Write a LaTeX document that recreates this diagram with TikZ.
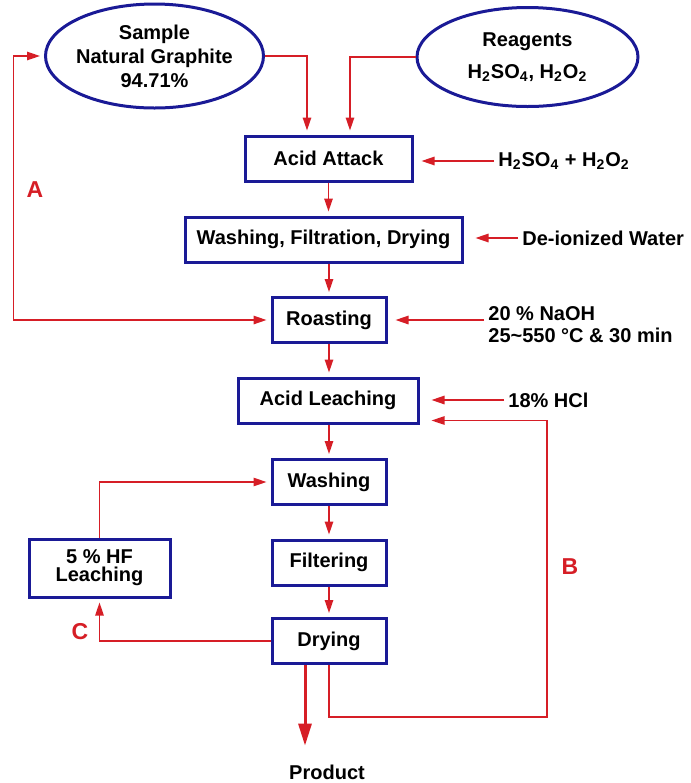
\documentclass[tikz,border=0pt]{standalone}
\usepackage{fontspec}
\setmainfont{Liberation Sans}
\usepackage{tikz}
\usetikzlibrary{shapes.geometric,arrows.meta,positioning,calc}
\definecolor{boxblue}{RGB}{26, 26, 150}
\definecolor{flowred}{RGB}{214, 30, 38}
\newcommand{\ssub}[1]{\textsubscript{#1}}

\begin{document}
\begin{tikzpicture}[x=0.5pt, y=-0.5pt,
    every node/.style={font=\bfseries\fontsize{10}{11}\selectfont, text=black},
    procbox/.style={draw=boxblue, line width=1.5pt, fill=white, minimum height=22.5pt, inner sep=2pt},
    feed/.style={ellipse, draw=boxblue, line width=1.5pt, inner xsep=-5pt, inner ysep=0pt, align=center},
    flow/.style={color=flowred, line width=0.8pt, -{Triangle[length=6.5pt, width=4.2pt]}, shorten >=2pt},
    flowboth/.style={color=flowred, line width=0.8pt, {Triangle[length=6.5pt, width=4.2pt]}-{Triangle[length=6.5pt, width=4.2pt]}, shorten >=2pt, shorten <=2pt},
    looplabel/.style={text=flowred, font=\bfseries\fontsize{11.5}{12}\selectfont},
    sidetext/.style={inner sep=2pt, anchor=west, align=left}]
    \path[use as bounding box, fill=white] (0,0) rectangle (691,783);

    % Feed ellipses
    \node[feed, minimum width=109pt, minimum height=52pt, font=\bfseries\fontsize{10}{12}\selectfont] (sample) at (154.5,56) {Sample\\Natural Graphite\\94.71\%};
    \node[feed, minimum width=110.5pt, minimum height=49.5pt, font=\bfseries\fontsize{10}{16}\selectfont] (reagents) at (527.5,57) {Reagents\\H\ssub{2}SO\ssub{4}, H\ssub{2}O\ssub{2}};

    % Process column
    \node[procbox, minimum width=83.5pt] (attack) at (328.5,158.5) {Acid Attack};
    \node[procbox, minimum width=138.5pt] (wfd) at (323.5,239.5) {Washing, Filtration, Drying};
    \node[procbox, minimum width=57pt] (roast) at (329,320) {Roasting};
    \node[procbox, minimum width=90pt] (leach) at (328,400.5) {Acid Leaching};
    \node[procbox, minimum width=57pt] (wash) at (329,482) {Washing};
    \node[procbox, minimum width=57pt] (filter) at (329,562.5) {Filtering};
    \node[procbox, minimum width=57pt] (dry) at (329,641) {Drying};
    \node[procbox, minimum width=70.5pt, minimum height=29pt, align=center, font=\bfseries\fontsize{10}{9}\selectfont] (hf) at (99.5,568) {5 \% HF\\Leaching};
    \node (product) at (327,772) {Product};

    % Side inputs
    \node[sidetext] (attackin) at (494,161) {H\ssub{2}SO\ssub{4} + H\ssub{2}O\ssub{2}};
    \node[sidetext] (water) at (518,238) {De-ionized Water};
    \node[sidetext, font=\bfseries\fontsize{10}{11}\selectfont] (naoh) at (484,325) {20 \% NaOH\\25\textasciitilde550 °C \& 30 min};
    \node[sidetext] (hcl) at (504,400) {18\% HCl};

    % Loop labels
    \node[looplabel] (labA) at (35,190) {A};
    \node[looplabel] (labB) at (570,567) {B};
    \node[looplabel] (labC) at (80,632) {C};

    % Feeds into acid attack
    \draw[flow] (sample.east) -| ([xshift=-10.75pt]attack.north);
    \draw[flow] (reagents.west) -| ([xshift=10.75pt]attack.north);

    % Main column
    \draw[flow] (attack.south) -- (attack.south |- wfd.north);
    \draw[flow] (roast.north |- wfd.south) -- (roast.north);
    \draw[flow] (roast.south) -- (roast.south |- leach.north);
    \draw[flow] (wash.north |- leach.south) -- (wash.north);
    \draw[flow] (wash.south) -- (filter.north);
    \draw[flow] (filter.south) -- (dry.north);
    \draw[color=flowred, line width=1.5pt, -{Triangle[length=11pt, width=6.5pt]}, shorten >=6pt] ([xshift=-12pt]dry.south) -- ([xshift=-12pt]dry.south |- product.north);

    % Side feeds
    \draw[flow, shorten >=4pt] (attackin.west) -- (attackin.west -| attack.east);
    \draw[flow, shorten >=6pt] (water.west) -- (water.west -| wfd.east);
    \draw[flow, shorten >=4pt] (naoh.west |- roast.east) -- (roast.east);
    \draw[flow, shorten >=6pt] (hcl.west) -- (hcl.west -| leach.east);

    % Loop A
    \draw[flowboth] (sample.west) -- ++(-30.5,0) |- (roast.west);

    % Loop B
    \coordinate (bcorner) at (547,717);
    \draw[flow, line width=0.7pt, shorten >=6pt] (dry.south) |- (bcorner) |- ([yshift=2pt]leach.south east);

    % Loop C
    \draw[flow, line width=0.7pt] (dry.west) -| (hf.south);
    \draw[flow, line width=0.7pt] (hf.north) |- (wash.west);
\end{tikzpicture}
\end{document}
